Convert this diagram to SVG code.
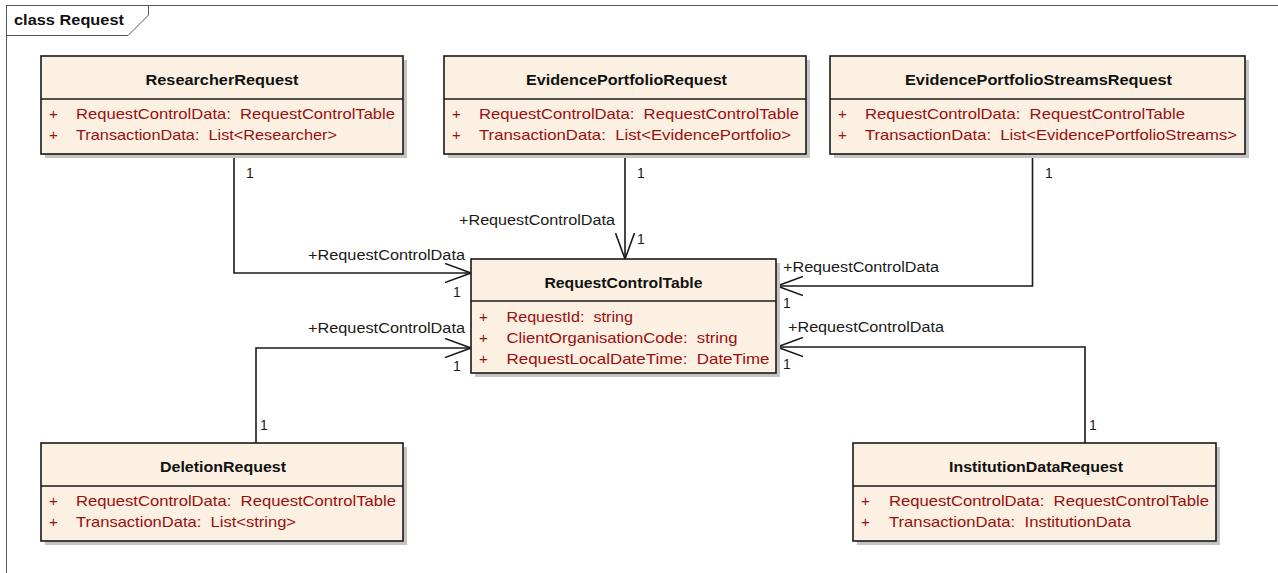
<svg xmlns="http://www.w3.org/2000/svg" width="1278" height="573" viewBox="0 0 1278 573">
<style>
.bg{fill:#ffffff}
.frame{fill:none;stroke:#555;stroke-width:1}
.shadow{fill:#c4c4c4}
.box{fill:#fbf0e1;stroke:#1a1a1a;stroke-width:1.6}
.div{stroke:#1a1a1a;stroke-width:1.3}
.title{font-family:"Liberation Sans",Arial,sans-serif;font-weight:bold;font-size:15px;fill:#111}
.attr{font-family:"Liberation Sans",Arial,sans-serif;font-size:15px;fill:#9a0f0f;white-space:pre}
.lbl{font-family:"Liberation Sans",Arial,sans-serif;font-size:14px;fill:#1a1a1a}
.conn{fill:none;stroke:#1a1a1a;stroke-width:1.6}
</style>
<defs>
<marker id="open" viewBox="0 0 27 21" refX="26" refY="10.5" markerWidth="27" markerHeight="21" markerUnits="userSpaceOnUse" orient="auto">
<path d="M0,1 L26,10.5 L0,20" fill="none" stroke="#1a1a1a" stroke-width="1.6"/>
</marker>
</defs>
<rect class="bg" x="0" y="0" width="1278" height="573"/>
<g id="frame">
<rect class="frame" x="6.5" y="5.5" width="1290" height="590"/>
<path class="frame" d="M6.5,35.5 H128 L148.5,15 V5.5"/>
<text class="title" x="14" y="25" textLength="110" lengthAdjust="spacingAndGlyphs">class Request</text>
</g>

<g id="connectors">
<path class="conn" d="M234,154 V273 H471" marker-end="url(#open)"/>
<path class="conn" d="M625,154 V259" marker-end="url(#open)"/>
<path class="conn" d="M1032.5,154 V286 H777" marker-end="url(#open)"/>
<path class="conn" d="M256,443 V348 H471" marker-end="url(#open)"/>
<path class="conn" d="M1085,443 V347 H777" marker-end="url(#open)"/>
<text class="lbl" x="246" y="178">1</text>
<text class="lbl" x="308" y="260" textLength="157" lengthAdjust="spacingAndGlyphs">+RequestControlData</text>
<text class="lbl" x="453" y="297">1</text>
<text class="lbl" x="637" y="178">1</text>
<text class="lbl" x="459" y="225" textLength="156" lengthAdjust="spacingAndGlyphs">+RequestControlData</text>
<text class="lbl" x="637" y="244">1</text>
<text class="lbl" x="1045" y="178">1</text>
<text class="lbl" x="783" y="272" textLength="156" lengthAdjust="spacingAndGlyphs">+RequestControlData</text>
<text class="lbl" x="783" y="308">1</text>
<text class="lbl" x="308" y="333" textLength="157" lengthAdjust="spacingAndGlyphs">+RequestControlData</text>
<text class="lbl" x="453" y="371">1</text>
<text class="lbl" x="260" y="430">1</text>
<text class="lbl" x="788" y="332" textLength="156" lengthAdjust="spacingAndGlyphs">+RequestControlData</text>
<text class="lbl" x="783" y="369">1</text>
<text class="lbl" x="1089" y="430">1</text>
</g>

<g id="ResearcherRequest">
<rect class="shadow" x="45" y="60" width="362" height="98"/>
<rect class="box" x="41" y="56" width="362" height="98"/>
<line class="div" x1="41" y1="99" x2="403" y2="99"/>
<text class="title" x="145.5" y="85" textLength="153" lengthAdjust="spacingAndGlyphs">ResearcherRequest</text>
<text class="attr" x="49" y="119">+</text>
<text class="attr" x="76" y="119" textLength="319" lengthAdjust="spacingAndGlyphs" xml:space="preserve">RequestControlData:  RequestControlTable</text>
<text class="attr" x="49" y="140">+</text>
<text class="attr" x="76" y="140" textLength="261" lengthAdjust="spacingAndGlyphs" xml:space="preserve">TransactionData:  List&lt;Researcher&gt;</text>
</g>

<g id="EvidencePortfolioRequest">
<rect class="shadow" x="448" y="60" width="362" height="98"/>
<rect class="box" x="444" y="56" width="362" height="98"/>
<line class="div" x1="444" y1="99" x2="806" y2="99"/>
<text class="title" x="526" y="85" textLength="201" lengthAdjust="spacingAndGlyphs">EvidencePortfolioRequest</text>
<text class="attr" x="452" y="119">+</text>
<text class="attr" x="479" y="119" textLength="320" lengthAdjust="spacingAndGlyphs" xml:space="preserve">RequestControlData:  RequestControlTable</text>
<text class="attr" x="452" y="140">+</text>
<text class="attr" x="479" y="140" textLength="312" lengthAdjust="spacingAndGlyphs" xml:space="preserve">TransactionData:  List&lt;EvidencePortfolio&gt;</text>
</g>

<g id="EvidencePortfolioStreamsRequest">
<rect class="shadow" x="834" y="60" width="415" height="98"/>
<rect class="box" x="830" y="56" width="415" height="98"/>
<line class="div" x1="830" y1="99" x2="1245" y2="99"/>
<text class="title" x="905" y="85" textLength="267" lengthAdjust="spacingAndGlyphs">EvidencePortfolioStreamsRequest</text>
<text class="attr" x="838" y="119">+</text>
<text class="attr" x="865" y="119" textLength="320" lengthAdjust="spacingAndGlyphs" xml:space="preserve">RequestControlData:  RequestControlTable</text>
<text class="attr" x="838" y="140">+</text>
<text class="attr" x="865" y="140" textLength="372" lengthAdjust="spacingAndGlyphs" xml:space="preserve">TransactionData:  List&lt;EvidencePortfolioStreams&gt;</text>
</g>

<g id="RequestControlTable">
<rect class="shadow" x="475" y="263" width="305" height="114"/>
<rect class="box" x="471" y="259" width="305" height="114"/>
<line class="div" x1="471" y1="301" x2="776" y2="301"/>
<text class="title" x="544.5" y="288" textLength="158" lengthAdjust="spacingAndGlyphs">RequestControlTable</text>
<text class="attr" x="479" y="322">+</text>
<text class="attr" x="506.5" y="322" textLength="126.5" lengthAdjust="spacingAndGlyphs" xml:space="preserve">RequestId:  string</text>
<text class="attr" x="479" y="343">+</text>
<text class="attr" x="506.5" y="343" textLength="231" lengthAdjust="spacingAndGlyphs" xml:space="preserve">ClientOrganisationCode:  string</text>
<text class="attr" x="479" y="364">+</text>
<text class="attr" x="506.5" y="364" textLength="263" lengthAdjust="spacingAndGlyphs" xml:space="preserve">RequestLocalDateTime:  DateTime</text>
</g>

<g id="DeletionRequest">
<rect class="shadow" x="45" y="447" width="362" height="98"/>
<rect class="box" x="41" y="443" width="362" height="98"/>
<line class="div" x1="41" y1="486" x2="403" y2="486"/>
<text class="title" x="160" y="472" textLength="126" lengthAdjust="spacingAndGlyphs">DeletionRequest</text>
<text class="attr" x="49" y="506">+</text>
<text class="attr" x="76" y="506" textLength="320" lengthAdjust="spacingAndGlyphs" xml:space="preserve">RequestControlData:  RequestControlTable</text>
<text class="attr" x="49" y="527">+</text>
<text class="attr" x="76" y="527" textLength="220" lengthAdjust="spacingAndGlyphs" xml:space="preserve">TransactionData:  List&lt;string&gt;</text>
</g>

<g id="InstitutionDataRequest">
<rect class="shadow" x="857" y="447" width="363" height="98"/>
<rect class="box" x="853" y="443" width="363" height="98"/>
<line class="div" x1="853" y1="486" x2="1216" y2="486"/>
<text class="title" x="949" y="472" textLength="174" lengthAdjust="spacingAndGlyphs">InstitutionDataRequest</text>
<text class="attr" x="861" y="506">+</text>
<text class="attr" x="889" y="506" textLength="320" lengthAdjust="spacingAndGlyphs" xml:space="preserve">RequestControlData:  RequestControlTable</text>
<text class="attr" x="861" y="527">+</text>
<text class="attr" x="889" y="527" textLength="242" lengthAdjust="spacingAndGlyphs" xml:space="preserve">TransactionData:  InstitutionData</text>
</g>
</svg>
